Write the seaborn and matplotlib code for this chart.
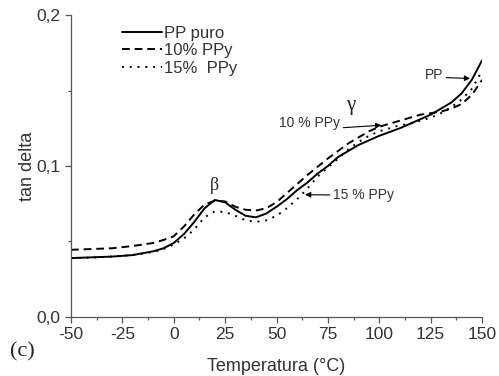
import seaborn as sns
import matplotlib.pyplot as plt
import matplotlib.ticker as mticker
import pandas as pd

# temperatura (°C)
temp = [-50, -40, -30, -20, -10, -5, 0, 5, 10, 15, 20, 25, 30, 35, 40, 45, 50, 55, 60,
        65, 70, 75, 80, 85, 90, 95, 100, 105, 110, 115, 120, 125, 130, 135, 140, 145, 150]

pp_puro = [0.039, 0.0395, 0.040, 0.041, 0.0435, 0.0455, 0.049, 0.055, 0.063, 0.072, 0.0775,
           0.076, 0.071, 0.067, 0.066, 0.0685, 0.073, 0.078, 0.084, 0.089, 0.095, 0.100,
           0.106, 0.110, 0.114, 0.117, 0.120, 0.1225, 0.125, 0.128, 0.131, 0.134, 0.138,
           0.142, 0.148, 0.157, 0.170]

ppy_10 = [0.0445, 0.045, 0.0455, 0.047, 0.049, 0.051, 0.0535, 0.060, 0.068, 0.0745, 0.077,
          0.0765, 0.073, 0.071, 0.0705, 0.072, 0.076, 0.082, 0.088, 0.094, 0.0995, 0.105,
          0.110, 0.115, 0.119, 0.123, 0.126, 0.128, 0.130, 0.132, 0.134, 0.135, 0.136,
          0.138, 0.141, 0.147, 0.157]

ppy_15 = [0.039, 0.0393, 0.040, 0.041, 0.043, 0.045, 0.048, 0.052, 0.058, 0.066, 0.070,
          0.0695, 0.067, 0.064, 0.063, 0.064, 0.067, 0.072, 0.078, 0.085, 0.093, 0.099,
          0.105, 0.111, 0.116, 0.120, 0.123, 0.125, 0.127, 0.128, 0.130, 0.132, 0.135,
          0.139, 0.144, 0.151, 0.163]

labels = ['PP puro', '10% PPy', '15%  PPy']

df = pd.concat([
    pd.DataFrame({'temp': temp, 'tan': pp_puro, 'serie': labels[0]}),
    pd.DataFrame({'temp': temp, 'tan': ppy_10, 'serie': labels[1]}),
    pd.DataFrame({'temp': temp, 'tan': ppy_15, 'serie': labels[2]}),
])

sns.set_style('ticks')
plt.rcParams['font.family'] = ['Liberation Sans', 'DejaVu Sans']
plt.rcParams['axes.unicode_minus'] = False
txt = '#333333'

fig = plt.figure(figsize=(4.99, 3.76), dpi=100)
ax = fig.add_axes([0.1423, 0.157, 0.8237, 0.803])

sns.lineplot(data=df, x='temp', y='tan', style='serie', color='black', linewidth=1.4,
             dashes={labels[0]: '', labels[1]: (4, 2.5), labels[2]: (1, 3)}, ax=ax)

ax.set_xlim(-50, 150)
ax.set_ylim(0, 0.2)
ax.set_xticks(range(-50, 151, 25))
ax.set_yticks([0, 0.1, 0.2])
ax.xaxis.set_minor_locator(mticker.MultipleLocator(12.5))
ax.yaxis.set_minor_locator(mticker.MultipleLocator(0.05))
ax.yaxis.set_major_formatter(mticker.FuncFormatter(lambda v, p: f'{v:.1f}'.replace('.', ',')))
ax.tick_params(which='major', length=4, width=0.9, color='#555555', labelsize=12.5, labelcolor=txt)
ax.tick_params(which='minor', length=2.5, width=0.9, color='#555555')
for s in ['top', 'right']:
    ax.spines[s].set_visible(False)
for s in ['left', 'bottom']:
    ax.spines[s].set_color('#555555')
    ax.spines[s].set_linewidth(0.9)

ax.set_xlabel('Temperatura (°C)', fontsize=13, color=txt, labelpad=11)
ax.set_ylabel('tan delta', fontsize=13, color=txt, labelpad=0)

ax.legend(frameon=False, loc='upper left', bbox_to_anchor=(0.125, 0.965), borderaxespad=0,
          borderpad=0, handlelength=2.4, handletextpad=0.1, labelspacing=0.15,
          fontsize=12, labelcolor=txt)

arrow = dict(arrowstyle='-|>', color='black', lw=0.8, mutation_scale=8, shrinkA=0, shrinkB=0)
ax.annotate('10 % PPy', xy=(101, 0.127), xytext=(80.9, 0.1285), ha='right', va='center',
            fontsize=10, color=txt, arrowprops={**arrow, 'relpos': (1, 0.15)})
ax.annotate('PP', xy=(144.2, 0.158), xytext=(131, 0.160), ha='right', va='center',
            fontsize=10, color=txt, arrowprops={**arrow, 'relpos': (1, 0.35)})
ax.annotate('15 % PPy', xy=(63.9, 0.081), xytext=(77.5, 0.0808), ha='left', va='center',
            fontsize=10, color=txt, arrowprops={**arrow, 'relpos': (0, 0.5)})

ax.text(20, 0.087, 'β', ha='center', va='center', fontsize=13, family='Liberation Serif')
ax.text(86, 0.140, 'γ', ha='center', va='center', fontsize=15, family='Liberation Serif')
fig.text(0.02, 0.064, '(c)', fontsize=16, family='Liberation Serif', va='center')

fig.savefig('out.png', dpi=100)
